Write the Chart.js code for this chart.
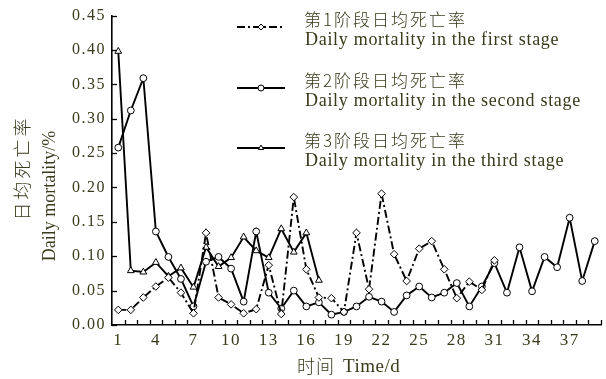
<!DOCTYPE html>
<html>
<head>
<meta charset="utf-8">
<script src="https://cdn.jsdelivr.net/npm/chart.js@4.4.1/dist/chart.umd.min.js"></script>
<style>
  html, body { margin: 0; padding: 0; background: #fff; }
  #wrap { width: 606px; height: 379px; position: relative; }
</style>
</head>
<body>
<div id="wrap"><canvas id="c" width="606" height="379"></canvas></div>
<script>
// Days of observation
const days = ['1','2','3','4','5','6','7','8','9','10','11','12','13','14','15','16','17','18','19','20',
              '21','22','23','24','25','26','27','28','29','30','31','32','33','34','35','36','37','38','39'];
// Day labels shown on the time axis
const dayTickLabels = ['1','4','7','10','13','16','19','22','25','28','31','34','37'];

// Daily mortality (%) by stage
const stage1 = [0.022, 0.022, 0.040, 0.056, 0.069, 0.047, 0.017, 0.134, 0.040, 0.030,
                0.017, 0.023, 0.087, 0.016, 0.186, 0.081, 0.040, 0.039, 0.019, 0.134,
                0.052, 0.191, 0.103, 0.064, 0.111, 0.122, 0.081, 0.039, 0.063, 0.051, 0.094];
const stage2 = [0.258, 0.312, 0.359, 0.136, 0.099, 0.067, 0.027, 0.092, 0.099, 0.082,
                0.034, 0.136, 0.047, 0.024, 0.050, 0.027, 0.033, 0.015, 0.019, 0.027,
                0.041, 0.034, 0.019, 0.043, 0.056, 0.040, 0.047, 0.061, 0.027, 0.056,
                0.090, 0.047, 0.113, 0.049, 0.099, 0.084, 0.156, 0.064, 0.122];
const stage3 = [0.398, 0.079, 0.077, 0.091, 0.071, 0.083, 0.055, 0.113, 0.085, 0.098,
                0.128, 0.108, 0.098, 0.140, 0.106, 0.134, 0.065];

const legendZh = ['第1阶段日均死亡率', '第2阶段日均死亡率', '第3阶段日均死亡率'];
const legendEn = ['Daily mortality in the first stage', 'Daily mortality in the second stage', 'Daily mortality in the third stage'];
const yTitleZh = '日均死亡率';
const yTitleEn = 'Daily mortality/%';
const xTitle = ['时间', 'Time/d'];

const TEXT = '#3a3a1c';
const SERIF = '"Liberation Serif", "Times New Roman", serif';
const CJK = '"Noto Sans CJK SC", sans-serif';

const dashDot = [8, 3, 2, 3];

function setSpacing(ctx, s) { if ('letterSpacing' in ctx) ctx.letterSpacing = s; }

// Inward tick marks, legend block and axis titles
const decor = {
  id: 'decor',
  beforeUpdate(chart) { setSpacing(chart.ctx, '1.5px'); },
  beforeDraw(chart) { setSpacing(chart.ctx, '1.5px'); },
  afterDraw(chart) {
    const ctx = chart.ctx;
    const xs = chart.scales.x, ys = chart.scales.y;
    ctx.save();
    ctx.strokeStyle = '#000';
    ctx.lineWidth = 1.3;
    // y ticks (pointing into the plot)
    ys.ticks.forEach(t => {
      const y = Math.round(ys.getPixelForValue(t.value)) + 0.5;
      ctx.beginPath(); ctx.moveTo(ys.right, y); ctx.lineTo(ys.right + 5, y); ctx.stroke();
    });
    // x ticks at day boundaries
    const half = (xs.getPixelForValue(1) - xs.getPixelForValue(0)) / 2;
    for (let i = 0; i < days.length; i++) {
      const x = Math.round(xs.getPixelForValue(i) + half) + 0.5;
      ctx.beginPath(); ctx.moveTo(x, xs.top); ctx.lineTo(x, xs.top - 5); ctx.stroke();
    }

    // legend
    const ds = chart.data.datasets;
    const rows = [27, 88, 148];
    ds.forEach((d, i) => {
      const y = rows[i];
      ctx.save();
      ctx.strokeStyle = '#000';
      ctx.lineWidth = 2;
      ctx.setLineDash(d.borderDash || []);
      ctx.beginPath(); ctx.moveTo(237, y); ctx.lineTo(285, y); ctx.stroke();
      ctx.setLineDash([]);
      ctx.fillStyle = '#fff';
      ctx.strokeStyle = '#000';
      ctx.lineWidth = 1;
      Chart.helpers.drawPoint(ctx, {
        pointStyle: d.pointStyle, radius: 3, borderWidth: 1
      }, 261, y);
      ctx.restore();
      ctx.fillStyle = TEXT;
      ctx.textAlign = 'left';
      ctx.textBaseline = 'middle';
      setSpacing(ctx, '2px');
      ctx.font = '300 17px ' + CJK;
      ctx.fillText(legendZh[i], 304, y - 7);
      setSpacing(ctx, '0.7px');
      ctx.font = '18px ' + SERIF;
      ctx.fillText(legendEn[i], 305, y + 13);
    });

    // y axis titles
    ctx.fillStyle = TEXT;
    ctx.textAlign = 'center';
    ctx.textBaseline = 'middle';
    ctx.save();
    ctx.translate(22, 168);
    ctx.rotate(-Math.PI / 2);
    setSpacing(ctx, '3px');
    ctx.font = '300 18px ' + CJK;
    ctx.fillText(yTitleZh, 0, 0);
    ctx.restore();
    ctx.save();
    ctx.translate(50, 196);
    ctx.rotate(-Math.PI / 2);
    setSpacing(ctx, '0px');
    ctx.font = '18px ' + SERIF;
    ctx.fillText(yTitleEn, 0, 0);
    ctx.restore();

    // x axis title
    ctx.textAlign = 'left';
    setSpacing(ctx, '1px');
    ctx.font = '300 18px ' + CJK;
    ctx.fillText(xTitle[0], 297, 366);
    const w = ctx.measureText(xTitle[0]).width;
    setSpacing(ctx, '0.5px');
    ctx.font = '19px ' + SERIF;
    ctx.fillText(xTitle[1], 297 + w + 8, 367);
    ctx.restore();
  }
};

const pointCommon = {
  borderColor: '#000',
  backgroundColor: '#fff',
  pointBackgroundColor: '#fff',
  pointBorderColor: '#000',
  pointBorderWidth: 1,
  pointRadius: 3.4,
  borderWidth: 1.9,
  tension: 0,
  fill: false
};

new Chart(document.getElementById('c'), {
  type: 'line',
  data: {
    labels: days,
    datasets: [
      Object.assign({ label: legendEn[0], data: stage1, borderDash: dashDot, pointStyle: 'rectRot' }, pointCommon, { pointRadius: 3.8 }),
      Object.assign({ label: legendEn[1], data: stage2, pointStyle: 'circle' }, pointCommon),
      Object.assign({ label: legendEn[2], data: stage3, pointStyle: 'triangle' }, pointCommon, { pointRadius: 3.9 })
    ]
  },
  options: {
    responsive: false,
    animation: false,
    devicePixelRatio: 1,
    layout: { padding: { top: 14, right: 1, left: 0, bottom: 0 } },
    plugins: { legend: { display: false }, tooltip: { enabled: false } },
    scales: {
      x: {
        type: 'category',
        offset: true,
        grid: { display: false, drawTicks: false },
        border: { display: true, color: '#000', width: 1.6 },
        ticks: {
          autoSkip: false, maxRotation: 0, padding: 5,
          color: TEXT, font: { family: SERIF, size: 17 },
          callback: (v, i) => dayTickLabels.includes(days[i]) ? days[i] : ''
        },
        afterFit: s => { s.height = 54; }
      },
      y: {
        min: 0, max: 0.45,
        grid: { display: false, drawTicks: false },
        border: { display: true, color: '#000', width: 1.6 },
        ticks: {
          stepSize: 0.05, padding: 6,
          color: TEXT, font: { family: SERIF, size: 16 },
          callback: v => v.toFixed(2)
        },
        afterFit: s => { s.width = 112; }
      }
    }
  },
  plugins: [decor]
});
</script>
</body>
</html>
